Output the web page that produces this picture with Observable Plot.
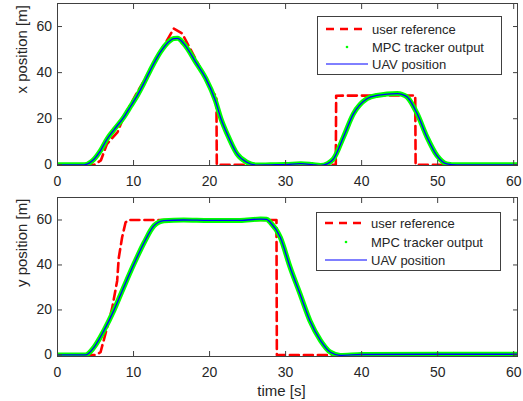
<!DOCTYPE html>
<html><head><meta charset="utf-8">
<script src="https://cdn.jsdelivr.net/npm/d3@7"></script>
<script src="https://cdn.jsdelivr.net/npm/@observablehq/plot@0.6"></script>
<style>
body{margin:0;background:#fff;}
#chart{position:relative;width:523px;height:401px;font-family:"Liberation Sans",Arial,sans-serif;background:#fff;}
#chart svg{display:block}
.legend{position:absolute;}
</style>
</head><body><div id="chart"></div>
<script>
// ---- data ----
const xTicks = [0, 10, 20, 30, 40, 50, 60];
const yTicks = [0, 20, 40, 60];
const seriesNames = ["user reference", "MPC tracker output", "UAV position"];

// top panel: x position [m]
const refXt = [0, 4.8, 5.7, 6.5, 7.9, 8.7, 10.5, 11.4, 13.1, 14.4, 15.3, 16.4, 18.3, 20.5, 20.9, 20.95, 36.6, 36.65, 47.05, 47.1, 60.5];
const refXv = [0, 0, 1.9, 9, 14.2, 20.7, 31.6, 36.6, 46.8, 54, 59.1, 57, 45, 31, 30, 0, 0, 30, 30.1, 0, 0];
const trkXt = [0, 3.5, 4.5, 5.66, 6.54, 7.5, 8.73, 9.6, 10.5, 11.3, 12.2, 13.55, 14.5, 15.3, 15.8, 16.6, 18.3, 19.5, 20.75, 21.5, 22.3, 23.6, 24.9, 26.2, 28, 30, 32, 33.5, 34.6, 35.5, 36.3, 37.6, 38.9, 40.7, 42, 44.7, 45.3, 46, 47.3, 48.6, 49.9, 51.2, 52.5, 60.5];
const trkXv = [0, 0, 1.5, 6.2, 11.3, 15.5, 20.7, 25.3, 30.1, 35, 41, 49, 53, 54.8, 54.9, 52.6, 43.9, 37.5, 28, 20, 13.5, 4.8, 1.1, -0.1, 0, 0.1, 0.5, 0.1, -0.3, 0.5, 2.6, 12, 22, 28.7, 30.1, 30.9, 30.6, 29.4, 22.2, 12, 4, 0.4, 0, 0];

// bottom panel: y position [m]
const refYt = [0, 5.0, 5.66, 6.3, 7.2, 7.85, 8.05, 8.5, 8.95, 9.3, 28.8, 28.85, 60.5];
const refYv = [0, 0, 1.2, 9.3, 21, 33, 43, 52.3, 58.9, 60, 60, 0, 0];
const trkYt = [0, 3.7, 4.8, 6.1, 7.4, 8.7, 10.05, 11.4, 12.7, 14, 16.6, 20, 24, 26.7, 27.5, 28, 29.3, 30.6, 31.9, 33.2, 34.6, 35.9, 37.2, 40, 50, 60.5];
const trkYv = [0, 0, 3.4, 10.8, 19.7, 30, 40.4, 50, 57.5, 59.7, 60, 59.8, 59.8, 60.4, 60.3, 58.9, 52.3, 38.9, 27.1, 15.2, 6.4, 1.2, -0.2, 0.2, 0.3, 0.3];

const zip = (t, v) => t.map((d, i) => ({t: d, v: v[i]}));
const FONT = '"Liberation Sans", Arial, Helvetica, sans-serif';
const INK = "#262626";
const TICKFS = 14, LABELFS = 15;

function panel({height, marginTop, marginBottom, yDomain, ref, trk, yLabel, labelDy, xLabel}) {
  const marks = [
    Plot.line(ref, {x: "t", y: "v", stroke: "#ff0000", strokeWidth: 2.6, strokeDasharray: "9,5", clip: true}),
    Plot.line(trk, {x: "t", y: "v", stroke: "#00ff00", strokeWidth: 5, curve: "monotone-x", clip: true}),
    Plot.line(trk, {x: "t", y: "v", stroke: "#0000ff", strokeWidth: 1.3, curve: "monotone-x", clip: true}),
    Plot.frame({stroke: "#404040", strokeWidth: 1}),
    Plot.axisX({ticks: xTicks, tickSize: -5, tickPadding: 16, label: null, stroke: "#404040", fontSize: TICKFS, fill: INK}),
    Plot.axisX({ticks: xTicks, anchor: "top", tickSize: -5, tickFormat: () => "", label: null, stroke: "#404040"}),
    Plot.axisY({ticks: yTicks, tickSize: -5, tickPadding: 10.5, label: null, stroke: "#404040", fontSize: TICKFS, fill: INK}),
    Plot.axisY({ticks: yTicks, anchor: "right", tickSize: -5, tickFormat: () => "", label: null, stroke: "#404040"}),
    Plot.text([yLabel], {text: d => d, frameAnchor: "left", rotate: -90, dx: -35, dy: labelDy, fontSize: LABELFS, fill: INK})
  ];
  if (xLabel) marks.push(Plot.text([xLabel], {text: d => d, frameAnchor: "bottom", dx: -6, dy: 35, lineAnchor: "middle", fontSize: LABELFS, fill: INK}));
  return Plot.plot({
    width: 523, height, marginLeft: 57, marginRight: 6, marginTop, marginBottom,
    style: {fontFamily: FONT, fontSize: "14px", color: INK, background: "#fff", overflow: "visible"},
    x: {domain: [0, 60.5]},
    y: {domain: yDomain},
    marks
  });
}

const chart = document.getElementById("chart");
chart.appendChild(panel({height: 190, marginTop: 3, marginBottom: 25, yDomain: [-0.3, 70],
  ref: zip(refXt, refXv), trk: zip(trkXt, trkXv), yLabel: "x position [m]", labelDy: 9}));
chart.appendChild(panel({height: 211, marginTop: 7, marginBottom: 45, yDomain: [-0.7, 70],
  ref: zip(refYt, refYv), trk: zip(trkYt, trkYv), yLabel: "y position [m]", labelDy: 10, xLabel: "time [s]"}));

function legend(left, top, rows) {
  const w = 185, h = 59;
  const svg = d3.create("svg").attr("class", "legend").attr("width", w).attr("height", h)
    .style("left", left + "px").style("top", top + "px");
  svg.append("rect").attr("x", 0.5).attr("y", 0.5).attr("width", w - 1).attr("height", h - 1)
    .attr("fill", "#fff").attr("stroke", "#404040").attr("stroke-width", 1);
  svg.append("line").attr("x1", 9).attr("x2", 51).attr("y1", rows[0]).attr("y2", rows[0])
    .attr("stroke", "#ff0000").attr("stroke-width", 2.6).attr("stroke-dasharray", "8,6");
  svg.append("circle").attr("cx", 30).attr("cy", rows[1]).attr("r", 1.3).attr("fill", "#00ff00");
  svg.append("line").attr("x1", 9).attr("x2", 51).attr("y1", rows[2]).attr("y2", rows[2])
    .attr("stroke", "#0000ff").attr("stroke-width", 1);
  seriesNames.forEach((s, i) => {
    svg.append("text").attr("x", 55).attr("y", rows[i]).attr("dy", "0.35em")
      .attr("font-family", FONT).attr("font-size", 13).attr("fill", INK).text(s);
  });
  chart.appendChild(svg.node());
}
legend(317, 16, [13, 31, 48]);
legend(316, 212, [11, 30, 48]);
</script>
</body></html>
